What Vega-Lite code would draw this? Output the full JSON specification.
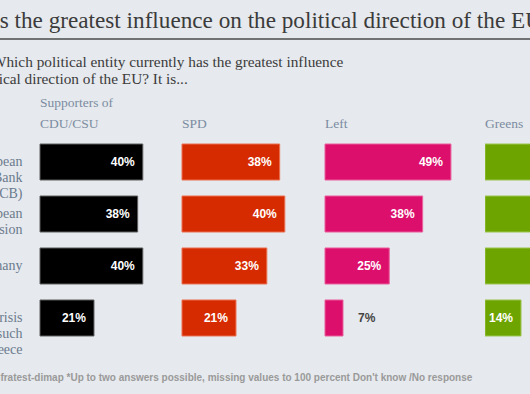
{
  "$schema": "https://vega.github.io/schema/vega-lite/v6.json",
  "background": "#e6e9ed",
  "padding": {"left": -80, "top": 9, "right": 0, "bottom": 24},
  "title": {
    "text": "Who has the greatest influence on the political direction of the EU?",
    "anchor": "start", "frame": "group", "dx": -113, "offset": -13, "baseline": "alphabetic",
    "font": "Liberation Serif", "fontSize": 23.2, "fontWeight": "normal", "color": "#3b3b3b"
  },
  "datasets": {
    "poll": [
      {"entity": "European Central Bank (ECB)", "party": "CDU/CSU", "value": 40},
      {"entity": "European Commission", "party": "CDU/CSU", "value": 38},
      {"entity": "Germany", "party": "CDU/CSU", "value": 40},
      {"entity": "Countries in crisis such as Greece", "party": "CDU/CSU", "value": 21},
      {"entity": "European Central Bank (ECB)", "party": "SPD", "value": 38},
      {"entity": "European Commission", "party": "SPD", "value": 40},
      {"entity": "Germany", "party": "SPD", "value": 33},
      {"entity": "Countries in crisis such as Greece", "party": "SPD", "value": 21},
      {"entity": "European Central Bank (ECB)", "party": "Left", "value": 49},
      {"entity": "European Commission", "party": "Left", "value": 38},
      {"entity": "Germany", "party": "Left", "value": 25},
      {"entity": "Countries in crisis such as Greece", "party": "Left", "value": 7},
      {"entity": "European Central Bank (ECB)", "party": "Greens", "value": 43},
      {"entity": "European Commission", "party": "Greens", "value": 34},
      {"entity": "Germany", "party": "Greens", "value": 31},
      {"entity": "Countries in crisis such as Greece", "party": "Greens", "value": 14}
    ]
  },
  "bounds": "flush",
  "spacing": 20,
  "vconcat": [
    {
      "width": 490, "height": 77,
      "data": {"values": [{"line": 1}]},
      "mark": {"type": "rule", "color": "#4a4a4a", "strokeWidth": 1.5},
      "encoding": {
        "y": {"datum": 1, "type": "quantitative", "scale": {"domain": [0, 1]}, "axis": null},
        "x": {"datum": 0, "type": "quantitative", "scale": {"domain": [0.0755, 1], "nice": false, "zero": false}, "axis": null},
        "x2": {"datum": 1}
      }
    },
    {
      "title": {
        "text": ["Question: Which political entity currently has the greatest influence", "on the political direction of the EU? It is..."],
        "anchor": "start", "frame": "group", "dx": -111, "offset": -7, "baseline": "bottom",
        "font": "Liberation Serif", "fontSize": 15.3, "fontWeight": "normal", "color": "#3b3b3b", "lineHeight": 17
      },
      "bounds": "flush",
      "spacing": 0,
      "resolve": {"scale": {"x": "independent", "y": "independent"}},
      "hconcat": [
        {
          "width": 142, "height": 208,
          "title": {"text": ["Supporters of", "CDU/CSU"], "anchor": "start", "frame": "group", "baseline": "bottom", "offset": -8, "font": "Liberation Serif", "fontSize": 13.5, "fontWeight": "normal", "color": "#7b8ca1", "lineHeight": 21},
          "data": {"name": "poll"},
          "transform": [{"filter": "datum.party === 'CDU/CSU'"}, {"calculate": "datum.value + '%'", "as": "label"}],
          "encoding": {
            "y": {"field": "entity", "type": "nominal", "sort": ["European Central Bank (ECB)", "European Commission", "Germany", "Countries in crisis such as Greece"], "scale": {"paddingInner": 0.3077, "paddingOuter": 0.154},
              "axis": {"title": null, "domain": false, "ticks": false, "labelPadding": 18, "labelFont": "Liberation Serif", "labelFontSize": 14, "labelColor": "#6b7b8f", "labelLineHeight": 16, "labelLimit": 400,
                "labelExpr": "datum.value === 'European Central Bank (ECB)' ? ['European', 'Central Bank', '(ECB)'] : datum.value === 'European Commission' ? ['European', 'Commission'] : datum.value === 'Countries in crisis such as Greece' ? ['Countries in crisis', 'such', 'as Greece'] : datum.label"}},
            "x": {"field": "value", "type": "quantitative", "scale": {"domain": [0, 55.25]},
              "axis": {"orient": "bottom", "domain": false, "ticks": false, "labels": false, "grid": false,
                "title": "Source: Infratest-dimap *Up to two answers possible, missing values to 100 percent Don't know /No response",
                "titleFont": "Liberation Sans", "titleFontSize": 10, "titleFontWeight": "bold", "titleColor": "#9a9a9a",
                "titleAnchor": "start", "titleAlign": "left", "titleBaseline": "alphabetic", "titleX": -89, "titleY": 36, "titleLimit": 1000}}
          },
          "layer": [
            {"mark": {"type": "bar", "fill": "#000000", "stroke": "#5e5e5e", "strokeWidth": 1}},
            {"transform": [{"filter": "datum.value >= 10"}], "mark": {"type": "text", "align": "right", "dx": -8, "font": "Liberation Sans", "fontSize": 12, "fontWeight": "bold", "fill": "#ffffff"}, "encoding": {"text": {"field": "label"}}},
            {"transform": [{"filter": "datum.value < 10"}], "mark": {"type": "text", "align": "left", "dx": 15, "font": "Liberation Sans", "fontSize": 12, "fontWeight": "bold", "fill": "#444444"}, "encoding": {"text": {"field": "label"}}}
          ]
        },
        {
          "width": 143, "height": 208,
          "title": {"text": "SPD", "anchor": "start", "frame": "group", "baseline": "bottom", "offset": -8, "font": "Liberation Serif", "fontSize": 13.5, "fontWeight": "normal", "color": "#7b8ca1"},
          "data": {"name": "poll"},
          "transform": [{"filter": "datum.party === 'SPD'"}, {"calculate": "datum.value + '%'", "as": "label"}],
          "encoding": {
            "y": {"field": "entity", "type": "nominal", "sort": ["European Central Bank (ECB)", "European Commission", "Germany", "Countries in crisis such as Greece"], "scale": {"paddingInner": 0.3077, "paddingOuter": 0.154}, "axis": null},
            "x": {"field": "value", "type": "quantitative", "scale": {"domain": [0, 55.64]}, "axis": null}
          },
          "layer": [
            {"mark": {"type": "bar", "fill": "#d62b00", "stroke": "#ea7050", "strokeWidth": 1}},
            {"transform": [{"filter": "datum.value >= 10"}], "mark": {"type": "text", "align": "right", "dx": -8, "font": "Liberation Sans", "fontSize": 12, "fontWeight": "bold", "fill": "#ffffff"}, "encoding": {"text": {"field": "label"}}},
            {"transform": [{"filter": "datum.value < 10"}], "mark": {"type": "text", "align": "left", "dx": 15, "font": "Liberation Sans", "fontSize": 12, "fontWeight": "bold", "fill": "#444444"}, "encoding": {"text": {"field": "label"}}}
          ]
        },
        {
          "width": 160, "height": 208,
          "title": {"text": "Left", "anchor": "start", "frame": "group", "baseline": "bottom", "offset": -8, "font": "Liberation Serif", "fontSize": 13.5, "fontWeight": "normal", "color": "#7b8ca1"},
          "data": {"name": "poll"},
          "transform": [{"filter": "datum.party === 'Left'"}, {"calculate": "datum.value + '%'", "as": "label"}],
          "encoding": {
            "y": {"field": "entity", "type": "nominal", "sort": ["European Central Bank (ECB)", "European Commission", "Germany", "Countries in crisis such as Greece"], "scale": {"paddingInner": 0.3077, "paddingOuter": 0.154}, "axis": null},
            "x": {"field": "value", "type": "quantitative", "scale": {"domain": [0, 62.26]}, "axis": null}
          },
          "layer": [
            {"mark": {"type": "bar", "fill": "#dc0f6c", "stroke": "#ea5f9c", "strokeWidth": 1}},
            {"transform": [{"filter": "datum.value >= 10"}], "mark": {"type": "text", "align": "right", "dx": -8, "font": "Liberation Sans", "fontSize": 12, "fontWeight": "bold", "fill": "#ffffff"}, "encoding": {"text": {"field": "label"}}},
            {"transform": [{"filter": "datum.value < 10"}], "mark": {"type": "text", "align": "left", "dx": 15, "font": "Liberation Sans", "fontSize": 12, "fontWeight": "bold", "fill": "#444444"}, "encoding": {"text": {"field": "label"}}}
          ]
        },
        {
          "width": 45, "height": 208,
          "title": {"text": "Greens", "anchor": "start", "frame": "group", "baseline": "bottom", "offset": -8, "font": "Liberation Serif", "fontSize": 13.5, "fontWeight": "normal", "color": "#7b8ca1", "limit": 45},
          "data": {"name": "poll"},
          "transform": [{"filter": "datum.party === 'Greens'"}, {"calculate": "datum.value + '%'", "as": "label"}],
          "encoding": {
            "y": {"field": "entity", "type": "nominal", "sort": ["European Central Bank (ECB)", "European Commission", "Germany", "Countries in crisis such as Greece"], "scale": {"paddingInner": 0.3077, "paddingOuter": 0.154}, "axis": null},
            "x": {"field": "value", "type": "quantitative", "scale": {"domain": [0, 17.5]}, "axis": null}
          },
          "layer": [
            {"mark": {"type": "bar", "fill": "#6ea400", "stroke": "#9cc450", "strokeWidth": 1, "clip": true}},
            {"transform": [{"filter": "datum.value >= 10"}], "mark": {"type": "text", "align": "right", "dx": -8, "font": "Liberation Sans", "fontSize": 12, "fontWeight": "bold", "fill": "#ffffff", "clip": true}, "encoding": {"text": {"field": "label"}}}
          ]
        }
      ]
    }
  ],
  "config": {"view": {"stroke": null}}
}
